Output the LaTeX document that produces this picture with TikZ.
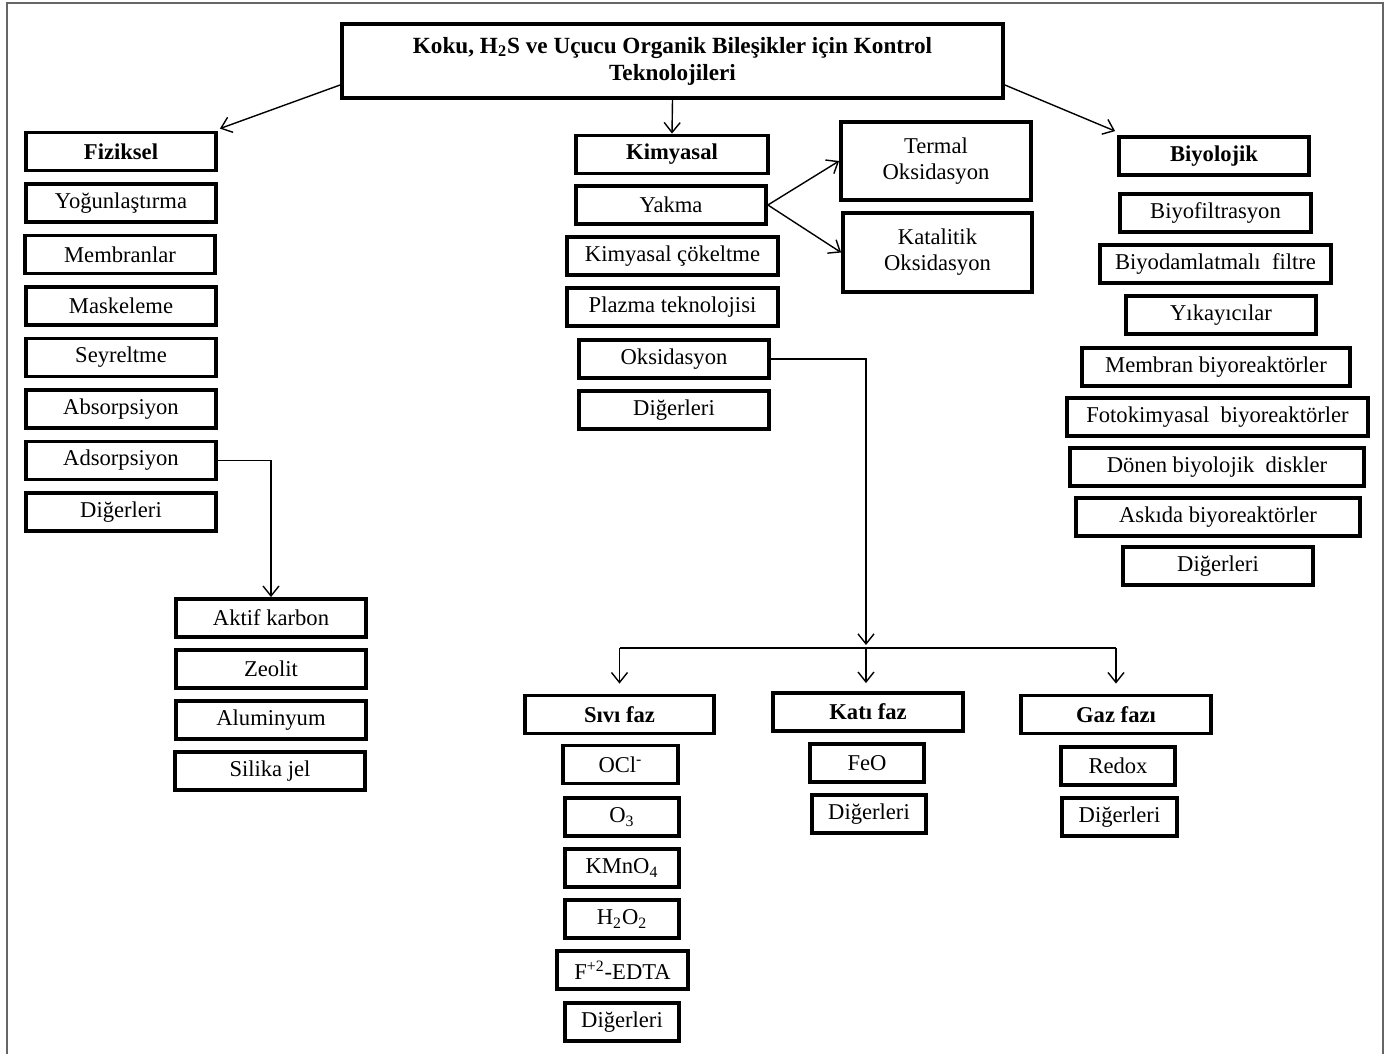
\documentclass[tikz,border=0pt]{standalone}
\usepackage{fontspec}
\setmainfont{Liberation Serif}
\usetikzlibrary{arrows.meta}
\tikzset{
  box/.style={draw, rectangle, line width=1.9pt, minimum width=95pt, minimum height=19pt, inner sep=0pt, align=center, font=\fontsize{11.3}{13}\selectfont},
  headbox/.style={box, font=\fontsize{11.3}{13}\selectfont\bfseries},
  arr/.style={-{Straight Barb[length=5pt,width=8pt]}, line width=0.7pt},
  framecolor/.style={draw=black!60, line width=1pt}
}

\begin{document}
\begin{tikzpicture}[x=0.5pt, y=-0.5pt]
      \useasboundingbox (0,0) rectangle (1389,1054);
      \path[framecolor] (7,1054) -- (7,3) -- (1383,3) -- (1383,1054);

      \node[headbox, minimum width=330.5pt, minimum height=37pt, font=\fontsize{11.6}{13.5}\selectfont\bfseries] at (672.5,61) (title) {Koku, H\textsubscript{2}S ve Uçucu Organik Bileşikler için Kontrol\\Teknolojileri};

      \node[headbox] at (121,151.5) (fiz) {Fiziksel};
      \node[box] at (121,203) (yog) {Yoğunlaştırma};
      \node[box] at (120,254.5) (mem) {Membranlar};
      \node[box] at (121,306) (mask) {Maskeleme};
      \node[box] at (121,357.5) (seyr) {Seyreltme};
      \node[box] at (121,409) (absr) {Absorpsiyon};
      \node[box] at (121,460.5) (adsr) {Adsorpsiyon};
      \node[box] at (121,512) (fizdig) {Diğerleri};

      \node[box] at (271,618) (akt) {Aktif karbon};
      \node[box] at (271,669) (zeo) {Zeolit};
      \node[box] at (271,720) (alu) {Aluminyum};
      \node[box] at (270,771) (sil) {Silika jel};

      \node[headbox, minimum width=96pt] at (672,154.5) (kim) {Kimyasal};
      \node[box] at (671,205) (yakma) {Yakma};
      \node[box, minimum width=105.5pt] at (672.5,256) (cok) {Kimyasal çökeltme};
      \node[box, minimum width=105.5pt] at (672.5,307) (plz) {Plazma teknolojisi};
      \node[box] at (674,359) (oks) {Oksidasyon};
      \node[box] at (674,410) (kimdig) {Diğerleri};

      \node[box, minimum height=39pt] at (936,161) (termal) {Termal\\Oksidasyon};
      \node[box, minimum width=94.5pt, minimum height=39.5pt] at (937.5,252.5) (katal) {Katalitik\\Oksidasyon};

      \node[headbox] at (1214,156) (biy) {Biyolojik};
      \node[box, minimum width=95.5pt] at (1215.5,213) (bf) {Biyofiltrasyon};
      \node[box, minimum width=115.5pt] at (1215.5,264) (bd) {Biyodamlatmalı\ \ filtre};
      \node[box] at (1221,315) (yik) {Yıkayıcılar};
      \node[box, minimum width=134pt] at (1216,367) (mbr) {Membran biyoreaktörler};
      \node[box, minimum width=150.5pt] at (1217.5,417) (foto) {Fotokimyasal\ \ biyoreaktörler};
      \node[box, minimum width=147pt] at (1217,467) (don) {Dönen biyolojik\ \ diskler};
      \node[box, minimum width=142pt] at (1218,517) (ask) {Askıda biyoreaktörler};
      \node[box] at (1218,566) (biydig) {Diğerleri};

      \node[headbox, minimum width=94.5pt] at (619.5,714.5) (sivi) {Sıvı faz};
      \node[headbox] at (868,712) (kati) {Katı faz};
      \node[headbox] at (1116,714.5) (gaz) {Gaz fazı};

      \node[box, minimum width=57.5pt] at (620.5,764.5) (ocl) {OCl\textsuperscript{-}};
      \node[box, minimum width=57pt] at (622,817) (ozon) {O\textsubscript{3}};
      \node[box, minimum width=57pt] at (622,868) (kmno) {KMnO\textsubscript{4}};
      \node[box, minimum width=57pt] at (622,919) (hoo) {H\textsubscript{2}O\textsubscript{2}};
      \node[box, minimum width=65.5pt] at (622.5,970) (fedta) {F\textsuperscript{+2}-EDTA};
      \node[box, minimum width=57pt] at (622,1022) (sividig) {Diğerleri};

      \node[box, minimum width=57pt] at (867,763) (feo) {FeO};
      \node[box, minimum width=57pt] at (869,814) (katidig) {Diğerleri};

      \node[box, minimum width=57pt] at (1118,766) (redox) {Redox};
      \node[box, minimum width=57.5pt] at (1119.5,817) (gazdig) {Diğerleri};

      \draw[arr] ([yshift=-12pt]title.west) -- ([xshift=1pt,yshift=1pt]fiz.north east);
      \draw[arr] (title.south) -- (kim.north);
      \draw[arr] ([yshift=-12pt]title.east) -- ([xshift=-1pt,yshift=2pt]biy.north west);

      \draw[arr] (yakma.east) -- (termal.west);
      \draw[arr] (yakma.east) -- (katal.west);

      \draw[arr] (adsr.east) -| (akt.north);

      \coordinate (split) at (866,648);
      \draw[arr, shorten >=1.5pt] (oks.east) -| (split);
      \draw[line width=0.7pt] (sivi.north |- split) -- (gaz.north |- split);
      \draw[arr, shorten >=5pt] (sivi.north |- split) -- (sivi.north);
      \draw[arr, shorten >=4pt] (split) -- (split |- kati.north);
      \draw[arr, shorten >=5pt] (gaz.north |- split) -- (gaz.north);
    \end{tikzpicture}
\end{document}
